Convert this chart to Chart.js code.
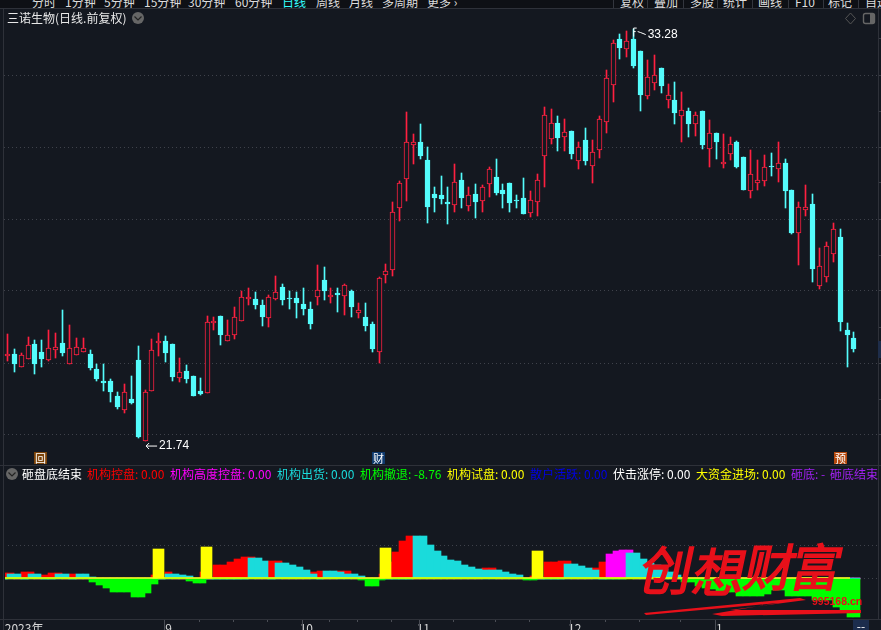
<!DOCTYPE html>
<html>
<head>
<meta charset="utf-8">
<script src="https://cdn.jsdelivr.net/npm/chart.js@4/dist/chart.umd.min.js"></script>
<style>
html,body{margin:0;padding:0;background:#141820;width:881px;height:630px;overflow:hidden;font:12px "Noto Sans CJK SC",sans-serif;color:#ddd}
.abs{position:absolute;white-space:nowrap;line-height:16px}
canvas{position:absolute}
#nav{position:absolute;left:0;top:0;width:881px;height:8px;background:#0e1015;overflow:hidden}
#nav span{position:absolute;top:-7px;line-height:18px;white-space:nowrap}
.sep{position:absolute;top:0;width:1px;height:8px;background:#33363e}
.line{position:absolute;background:#2e3139}
.mk{position:absolute;top:452px;width:13px;height:12px;line-height:12px;text-align:center;font-size:11px;color:#fff}
</style>
</head>
<body>
<canvas id="top" width="877" height="440" style="left:4px;top:25px"></canvas>
<canvas id="sub" width="881" height="155" style="left:0;top:484px"></canvas>

<div id="nav"></div>
<div class="line" style="left:0;top:8px;width:881px;height:1px"></div>
<div class="line" style="left:0;top:465px;width:881px;height:1px"></div>
<div style="position:absolute;left:0;top:466px;width:3px;height:164px;background:#141820"></div>
<div style="position:absolute;left:0;top:520px;width:5px;height:99px;background:#141820"></div>
<div style="position:absolute;left:878px;top:466px;width:3px;height:153px;background:#141820"></div>
<div class="line" style="left:3px;top:9px;width:1px;height:621px"></div>
<div class="line" style="left:878px;top:9px;width:1px;height:611px"></div>
<div class="line" style="left:0;top:619px;width:881px;height:1px"></div>
<div style="position:absolute;left:878px;top:341px;width:3px;height:17px;background:#1e2d4a"></div>

<div class="abs" style="left:7px;top:10px;color:#e8e8e8">三诺生物(日线.前复权)</div>

<div class="mk" style="left:34px;background:#7a4208">回</div>
<div class="mk" style="left:372px;background:#0f3a6e">财</div>
<div class="mk" style="left:834px;background:#b5490f">预</div>

<div id="legend"></div>
<div class="abs" style="left:853px;top:620px;width:16px;height:10px;background:#1c2d4d;color:#fff;line-height:12px;text-align:center">--</div>

<svg width="881" height="630" style="position:absolute;left:0;top:0;pointer-events:none">
  <circle cx="138" cy="18" r="6" fill="#666"/>
  <path d="M134.5 16.5 L138 20 L141.5 16.5" fill="none" stroke="#222" stroke-width="1.2"/>
  <circle cx="12" cy="474" r="6" fill="#666"/>
  <path d="M8.5 472.5 L12 476 L15.5 472.5" fill="none" stroke="#222" stroke-width="1.2"/>
  <path d="M850.5 13 L855.5 18.5 L850.5 24 L845.5 18.5 Z" fill="none" stroke="#555"/>
  <rect x="863.5" y="13.5" width="11" height="10" rx="2" fill="none" stroke="#666" stroke-width="1.4"/>
  <rect x="870" y="14" width="4" height="9" fill="#666"/>
  <g fill="#e8101a" stroke="#e8101a" stroke-width="1.6">
    <text font-family="Noto Sans CJK SC" font-size="52" transform="translate(637 590) skewX(-12)">创</text>
    <text font-family="Noto Sans CJK SC" font-size="52" transform="translate(690 592) skewX(-12)">想</text>
    <text font-family="Noto Sans CJK SC" font-size="50" transform="translate(742 586) skewX(-12)">财</text>
    <text font-family="Noto Sans CJK SC" font-size="50" transform="translate(788 586) skewX(-12)">富</text>
  </g>
  <g fill="#e8101a">
    <polygon points="644,613 800,598 806,600 730,610 861,610 861,613 722,616 712,614 778,603 646,615"/>
    <text font-family="Liberation Sans" font-weight="700" font-size="10.5" x="812" y="605">995168.cn</text>
  </g>
</svg>

<script>
// candles, one row per ~10 days
var opens = [24.11,24.17,23.81,24.04,24.45,24.22,24.01,24.29,24.48,23.90,
  24.15,24.23,24.17,23.75,23.41,23.41,22.99,22.62,22.91,24.00,
  21.74,23.14,24.49,24.53,24.45,23.51,23.69,23.55,23.13,23.08,
  25.04,25.23,24.54,24.71,25.10,25.72,25.71,25.54,25.19,25.72,
  26.04,25.74,25.74,25.57,25.43,25.77,26.24,25.76,25.88,25.80,
  25.93,25.31,25.20,25.01,24.23,26.38,26.53,28.27,29.08,30.03,
  30.10,29.60,28.65,28.62,28.43,28.35,29.04,28.32,28.65,28.46,
  28.94,29.12,28.76,28.96,28.48,28.54,28.13,28.43,29.72,30.20,
  30.64,30.25,30.41,29.58,30.16,29.44,29.89,30.67,31.71,32.99,
  32.72,32.99,32.65,31.40,31.77,32.18,31.29,31.28,30.84,30.97,
  30.62,30.97,29.92,30.36,29.50,29.78,30.10,29.68,28.74,28.95,
  29.02,29.43,29.34,29.52,28.76,27.57,28.21,28.37,26.08,26.32,
  26.96,27.45,24.84,24.62];
var closes = [24.17,23.89,24.16,24.44,23.89,24.03,24.33,24.36,24.20,24.33,
  24.38,24.33,23.78,23.47,23.36,23.11,22.69,23.12,22.80,21.85,
  23.12,24.30,24.55,24.20,23.52,23.68,23.47,22.99,23.05,25.06,
  25.09,24.70,24.72,25.22,25.76,25.78,25.54,25.20,25.78,25.92,
  25.68,25.71,25.60,25.43,25.01,25.98,25.93,25.82,25.82,26.10,
  25.48,25.42,24.95,24.31,26.29,26.49,28.15,28.96,30.10,30.10,
  29.71,28.29,28.54,28.51,28.37,28.98,28.54,28.61,28.43,28.84,
  29.34,28.68,28.65,28.40,28.45,28.09,28.47,29.03,30.85,30.65,
  30.22,30.40,29.77,29.96,29.57,29.84,30.75,31.89,32.89,32.74,
  32.92,32.23,31.42,31.92,31.97,31.67,31.41,30.92,30.99,30.61,
  30.85,30.02,30.35,30.10,29.56,30.04,29.40,28.76,29.20,29.03,
  29.42,29.40,29.51,28.73,27.56,28.28,28.30,26.55,26.65,27.21,
  27.66,25.07,24.70,24.31];
var highs = [24.73,24.31,24.20,24.64,24.56,24.56,24.84,24.76,25.40,24.98,
  24.62,24.62,24.28,23.89,23.89,23.47,23.11,23.33,23.55,24.39,
  23.16,24.59,24.76,24.67,24.45,24.06,23.86,23.55,23.50,25.23,
  25.20,25.23,25.12,25.48,25.93,26.02,25.90,25.68,25.82,26.35,
  26.13,25.93,25.90,26.02,25.62,26.66,26.60,26.02,26.02,26.13,
  25.96,25.60,25.60,25.06,26.32,26.69,28.43,29.01,30.94,30.33,
  30.61,29.96,28.84,29.15,28.84,29.49,29.24,28.84,28.93,28.90,
  29.40,29.63,28.93,28.96,28.62,29.10,28.73,29.21,31.08,31.03,
  30.83,30.75,30.41,30.11,30.50,30.16,30.83,32.12,32.96,33.13,
  33.21,33.28,32.65,32.40,32.54,32.18,31.73,31.78,31.50,31.06,
  30.95,30.97,30.72,30.36,30.33,30.24,30.13,29.68,29.88,29.60,
  29.74,29.80,30.10,29.63,28.76,28.43,28.90,28.65,27.14,27.31,
  27.84,27.67,25.04,24.79];
var lows = [23.98,23.67,23.81,24.04,23.61,23.81,23.98,24.06,24.11,23.89,
  24.15,24.23,23.73,23.41,23.13,22.83,22.63,22.52,22.77,21.82,
  21.74,23.13,24.11,23.95,23.41,23.39,23.36,22.99,23.02,23.08,
  24.84,24.42,24.54,24.59,25.10,25.54,25.43,24.95,24.93,25.68,
  25.54,25.43,25.18,25.26,24.87,25.54,25.68,25.60,25.34,25.26,
  25.20,25.18,24.81,24.23,23.92,26.16,26.35,27.89,28.45,29.49,
  29.63,27.84,28.15,28.37,27.81,28.15,28.26,28.17,27.98,28.15,
  28.57,28.62,28.26,28.15,28.26,28.09,28.01,28.03,28.85,30.05,
  29.85,29.85,29.63,29.35,29.46,28.96,29.66,30.36,31.22,32.43,
  32.48,32.18,30.97,31.31,31.56,31.48,31.06,30.61,30.10,30.25,
  30.27,29.91,29.40,29.63,29.38,29.60,29.38,28.76,28.54,28.76,
  28.87,29.15,28.98,28.26,27.53,26.66,28.03,26.19,26.00,26.19,
  26.75,24.81,23.81,24.23];

// grid lines on every second one
var priceTicks = [32.99,31.98,30.97,29.96,28.96,27.95,26.94,25.94,24.93,23.92,22.91,21.91];
var highLabel = {idx: 91, price: 33.28, text: '33.28'};
var lowLabel = {idx: 20, price: 21.74, text: '21.74'};

// lower indicator, 125 steps
var redVals = [1.2,1.2,0,1.42,1.42,0,.75,1.2,1.2,0,.97,0,0,0,0,0,0,0,0,0,0,0,.75,0,1.42,
  0,0,0,0,1.42,0,3,3,3.67,4.34,4.8,4.8,0,0,3.9,3.9,0,0,0,0,1.42,1.65,0,0,1.65,
  1.65,0,0,0,0,.97,3.67,5.9,8.4,9.5,0,0,0,0,0,0,0,0,0,0,2.3,2.3,0,0,0,
  0,0,.52,0,3.67,3.67,3.9,3.9,0,0,0,2.3,3.67,0,0,0,0,0,0,0,0,0,0,0,0,
  0,0,0,0,0,0,0,0,0,0,0,0,0,0,0,0,0,0,0,0,0,0,0,0,0];
var cyanVals = [0,.97,.97,0,.97,.97,0,0,.97,.97,0,.97,.97,.3,0,0,0,0,0,0,0,0,0,0,.97,
  .97,.75,.52,0,0,0,0,0,0,0,0,4.57,4.57,3.9,0,3.45,3.45,3,2.55,1.87,.97,0,1.65,1.65,1.42,
  .97,.97,.52,0,0,0,0,0,0,0,9.5,9.5,7.5,6.1,5,4.1,3.9,3,2.55,2.1,1.87,1.87,1.87,1.42,.97,
  .67,0,0,0,0,0,0,3.2,3.2,2.77,2.3,1.87,0,0,0,0,5.7,5.7,4.34,3.45,3,2.1,1.42,.75,0,
  0,0,0,0,0,0,0,0,0,0,0,0,0,0,0,0,0,0,0,0,0,0,0,0,0];
var magentaVals = [0,0,0,0,0,0,0,0,0,0,0,0,0,0,0,0,0,0,0,0,0,0,0,0,0,
  0,0,0,0,0,0,0,0,0,0,0,0,0,0,0,0,0,0,0,0,0,0,0,0,0,
  0,0,0,0,0,0,0,0,0,0,0,0,0,0,0,0,0,0,0,0,0,0,0,0,0,
  0,0,0,0,0,0,0,0,0,0,0,0,0,5.47,6.14,6.37,6.37,0,0,0,0,0,0,0,0,
  0,0,0,0,0,0,0,0,0,0,0,0,0,0,0,0,0,0,0,0,0,0,0,0,0];
var greenVals = [0,0,0,0,0,0,0,0,0,0,0,0,0,-.82,-1.5,-2.17,-3.07,-3.07,-3.07,-4.2,-4.2,-3.3,-1.27,0,0,
  0,0,-.6,-1.05,-1.05,0,0,0,0,0,0,0,0,0,0,0,0,0,0,0,0,0,0,0,0,
  0,0,-.52,-1.72,-1.72,-.3,0,0,0,0,0,0,0,0,0,0,0,0,0,0,0,0,0,0,0,
  0,-.3,-.3,0,0,0,0,0,0,0,0,0,0,0,0,0,0,0,0,0,0,0,0,0,-.82,
  -.82,-1.72,-2.17,-2.4,-3.07,-3.07,-3.07,-3.97,-3.97,-3.97,-3.97,-3.5,-2.62,-2.62,-3.97,-3.97,-3.97,-3.97,-4.87,-4.87,-4.87,-6.4,-7.34,-8.76,-8.76];
var yellowDays = [22,29,55,77];
var yellowVals = [6.59,7.04,6.82,6.14];
var subTicks = [7.2,0];

var monthCats = [3,24,44,61,83,104];
var monthTexts = ['2023年','9','10','11','12','1'];
var weekCats = [29,34,39,48,52,57,66,72,77,88,93,99];

// legend row
var legendLeft = [22,87,170,277,360,447,530,613,696,791,830];
var legendText = ['砸盘底结束','机构控盘: 0.00','机构高度控盘: 0.00','机构出货: 0.00','机构撤退: -8.76','机构试盘: 0.00','散户活跃: 0.00','伏击涨停: 0.00','大资金进场: 0.00','砸底: -','砸底结束'];
var legendColor = ['#fff','#f00','#f0f','#1adbdb','#0f0','#ff0','#0000e6','#fff','#ff0','#a020f0','#a020f0'];

var navLeft = [32,65,104,144,188,235,282,316,349,382,427,620,654,690,723,758,795,828,865];
var navText = ['分时','1分钟','5分钟','15分钟','30分钟','60分钟','日线','周线','月线','多周期','更多 ›','复权','叠加','多股','统计','画线','F10','标记','自选'];
var navSeps = [613,647,683,717,752,788,823,858];

var leg = document.getElementById('legend');
for (var i = 0; i < legendText.length; i++) {
  var s = document.createElement('div');
  s.className = 'abs';
  s.style.left = legendLeft[i] + 'px';
  s.style.top = '466px';
  s.style.color = legendColor[i];
  s.textContent = legendText[i];
  leg.appendChild(s);
}
var nav = document.getElementById('nav');
for (var i = 0; i < navText.length; i++) {
  var n = document.createElement('span');
  n.style.left = navLeft[i] + 'px';
  if (navText[i] == '日线') n.style.color = '#3ff';
  n.textContent = navText[i];
  nav.appendChild(n);
}
for (var i = 0; i < navSeps.length; i++) {
  var d = document.createElement('div');
  d.className = 'sep';
  d.style.left = navSeps[i] + 'px';
  nav.appendChild(d);
}

var RED = '#ff2040';
var CYAN = '#54fcfc';
var BG = '#141820';

function blanks(n) {
  var a = [];
  for (var i = 0; i < n; i++) a.push(String(i));
  return a;
}

// bars land on whole pixels, the reference has no soft edges
var snapBars = {
  id: 'snapBars',
  afterDatasetsUpdate: function (chart) {
    chart.getSortedVisibleDatasetMetas().forEach(function (meta) {
      if (meta.type != 'bar') return;
      meta.data.forEach(function (el) {
        var l = Math.round(el.x - el.width / 2), r = Math.round(el.x + el.width / 2);
        el.x = (l + r) / 2;
        el.width = r - l;
        el.y = Math.round(el.y);
        el.base = Math.round(el.base);
        if (el.y == el.base) el.base = el.y + 1;
      });
    });
  }
};

// high and low price labels on the candle chart
var priceMarks = {
  id: 'priceMarks',
  afterDatasetsDraw: function (chart) {
    var ctx = chart.ctx, x = chart.scales.x, y = chart.scales.y;
    ctx.save();
    ctx.fillStyle = '#fff';
    ctx.strokeStyle = '#fff';
    ctx.lineWidth = 1;
    ctx.font = '12px "Liberation Sans"';
    ctx.textBaseline = 'middle';
    // low
    var lx = x.getPixelForValue(lowLabel.idx), ly = y.getPixelForValue(lowLabel.price) + 5;
    ctx.beginPath();
    ctx.moveTo(lx + 12, ly); ctx.lineTo(lx + 1, ly);
    ctx.moveTo(lx + 4, ly - 3); ctx.lineTo(lx + 1, ly); ctx.lineTo(lx + 4, ly + 3);
    ctx.stroke();
    ctx.fillText(lowLabel.text, lx + 14, ly);
    // high with the little flag
    var hx = x.getPixelForValue(highLabel.idx), hy = y.getPixelForValue(highLabel.price);
    ctx.beginPath();
    ctx.moveTo(hx, hy + 8); ctx.lineTo(hx, hy - 0.5); ctx.lineTo(hx + 3, hy - 0.5);
    ctx.moveTo(hx, hy + 3); ctx.lineTo(hx + 2, hy + 3);
    ctx.moveTo(hx + 4, hy + 3); ctx.lineTo(hx + 7, hy + 4); ctx.lineTo(hx + 12, hy + 6);
    ctx.stroke();
    ctx.fillText(highLabel.text, hx + 14, hy + 6);
    ctx.restore();
  }
};

new Chart(document.getElementById('top'), {
  type: 'bar',
  plugins: [snapBars, priceMarks],
  data: {
    labels: blanks(127),
    datasets: [
      {
        order: 1,
        grouped: false,
        data: opens.map(function (o, i) { return [o, closes[i]]; }),
        barThickness: 5,
        borderWidth: 1,
        borderSkipped: false,
        borderColor: opens.map(function (o, i) { return closes[i] >= o ? RED : CYAN; }),
        backgroundColor: opens.map(function (o, i) { return closes[i] >= o ? BG : CYAN; })
      },
      {
        order: 2,
        grouped: false,
        data: lows.map(function (l, i) { return [l, highs[i]]; }),
        barThickness: 1,
        backgroundColor: opens.map(function (o, i) { return closes[i] >= o ? RED : CYAN; })
      }
    ]
  },
  options: {
    responsive: false,
    animation: false,
    devicePixelRatio: 1,
    layout: {padding: 0},
    plugins: {legend: {display: false}, tooltip: {enabled: false}},
    scales: {
      x: {display: false},
      y: {
        position: 'right',
        min: 21.07,
        max: 33.38,
        afterBuildTicks: function (s) { s.ticks = priceTicks.map(function (v) { return {value: v}; }); },
        afterFit: function (s) { s.width = 3; },
        ticks: {display: false},
        border: {display: false, dash: [1, 3]},
        grid: {
          tickLength: 3,
          tickColor: '#3a3d46',
          tickBorderDash: [],
          color: function (c) { return c.index % 2 ? '#3f424b' : 'transparent'; }
        }
      }
    }
  }
});

var subTickMarks = {
  id: 'subTickMarks',
  afterDraw: function (chart) {
    var ctx = chart.ctx, x = chart.scales.x, b = chart.chartArea.bottom;
    var half = x.width / 128 / 2;
    ctx.save();
    ctx.strokeStyle = '#4a4d55';
    ctx.beginPath();
    weekCats.forEach(function (c) {
      var px = Math.round(x.getPixelForValue(c) - half - 1) + 0.5;
      ctx.moveTo(px, b); ctx.lineTo(px, b + 3);
    });
    monthCats.slice(1).forEach(function (c) {
      var px = Math.round(x.getPixelForValue(c) - half - 1) + 0.5;
      ctx.moveTo(px, b); ctx.lineTo(px, b + 12);
    });
    ctx.stroke();
    ctx.restore();
  }
};

new Chart(document.getElementById('sub'), {
  type: 'bar',
  plugins: [snapBars, subTickMarks],
  data: {
    labels: blanks(128),
    datasets: [
      {type: 'line', order: 1, data: redVals.slice(0, 124).map(function () { return 0; }), borderColor: '#ff0', borderWidth: 1.5, pointRadius: 0},
      {order: 2, grouped: false, xAxisID: 'xc', barThickness: 11, backgroundColor: '#ff0',
        data: yellowDays.map(function (d, i) { return {x: d, y: yellowVals[i]}; })},
      {order: 3, grouped: false, barPercentage: 1, categoryPercentage: 1, backgroundColor: '#00ff00', data: greenVals},
      {order: 4, grouped: false, barPercentage: 1, categoryPercentage: 1, backgroundColor: '#1adbdb', data: cyanVals},
      {order: 5, grouped: false, barPercentage: 1, categoryPercentage: 1, backgroundColor: '#ff00ff', data: magentaVals},
      {order: 6, grouped: false, barPercentage: 1, categoryPercentage: 1, backgroundColor: '#ff0000', data: redVals}
    ]
  },
  options: {
    responsive: false,
    animation: false,
    devicePixelRatio: 1,
    layout: {padding: 0},
    plugins: {legend: {display: false}, tooltip: {enabled: false}},
    scales: {
      x: {
        afterFit: function (s) { s.height = 20; },
        border: {display: false},
        grid: {display: false, drawTicks: false},
        ticks: {
          autoSkip: false,
          maxRotation: 0,
          padding: 2,
          color: '#d8d8d8',
          font: {size: 12, family: 'Noto Sans CJK SC'},
          callback: function (v, i) {
            var m = monthCats.indexOf(i);
            return m >= 0 ? monthTexts[m] : '';
          }
        }
      },
      xc: {type: 'linear', display: false, offset: false, min: -1.06, max: 126.94},
      y: {
        position: 'right',
        min: -9.2,
        max: 21.1,
        afterBuildTicks: function (s) { s.ticks = subTicks.map(function (v) { return {value: v}; }); },
        afterFit: function (s) { s.width = 0; },
        ticks: {display: false},
        border: {display: false, dash: [1, 3]},
        grid: {drawTicks: false, color: '#3f424b'}
      }
    }
  }
});
</script>
</body>
</html>
